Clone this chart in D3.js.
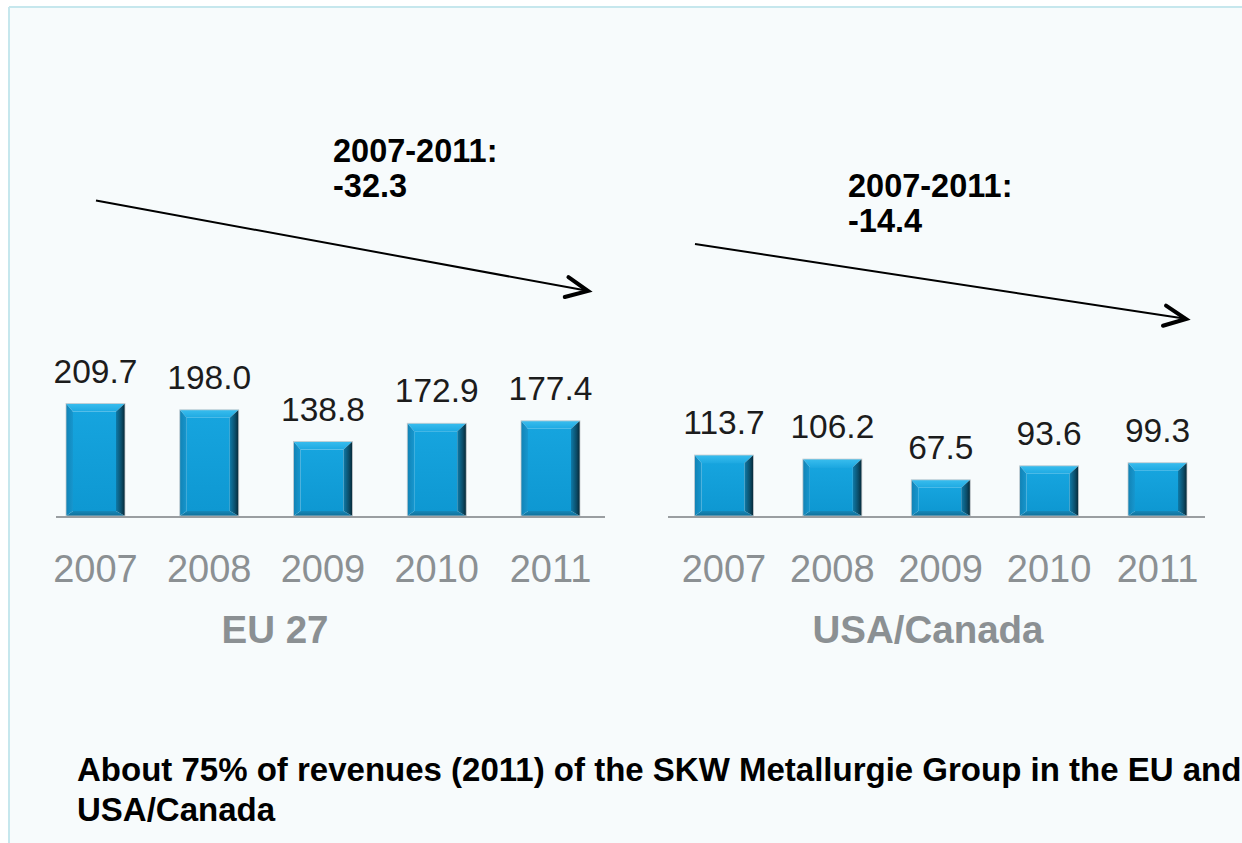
<!DOCTYPE html>
<html>
<head>
<meta charset="utf-8">
<script src="https://cdn.jsdelivr.net/npm/d3@7"></script>
<style>
  html, body { margin: 0; padding: 0; background: #ffffff; }
  svg { display: block; }
</style>
</head>
<body>
<div id="chart"></div>
<script>
// Regions and years
const years = ["2007", "2008", "2009", "2010", "2011"];
const regions = ["EU 27", "USA/Canada"];

// Values per region (one entry per year)
const euValues = [209.7, 198.0, 138.8, 172.9, 177.4];
const usaValues = [113.7, 106.2, 67.5, 93.6, 99.3];

// Change over the period, per region
const changeLabel = "2007-2011:";
const changes = [-32.3, -14.4];

const footerLines = [
  "About 75% of revenues (2011) of the SKW Metallurgie Group in the EU and",
  "USA/Canada"
];

const W = 1242, H = 843;
const svg = d3.select("#chart").append("svg")
  .attr("width", W).attr("height", H)
  .style("font-family", "'Liberation Sans', Arial, Helvetica, sans-serif");

// Panel background with a light cyan frame on the top and left edges
svg.append("rect").attr("x", 9).attr("y", 7).attr("width", W).attr("height", H)
  .attr("fill", "#f7fbfc");
svg.append("line").attr("x1", 9).attr("x2", W).attr("y1", 7).attr("y2", 7)
  .attr("stroke", "#c6e7ed").attr("stroke-width", 2);
svg.append("line").attr("x1", 9).attr("x2", 9).attr("y1", 7).attr("y2", H)
  .attr("stroke", "#c6e7ed").attr("stroke-width", 2);

// Gradients for the bevelled bar faces
const defs = svg.append("defs");
function grad(id, x2, y2, stops) {
  const g = defs.append("linearGradient").attr("id", id)
    .attr("x1", 0).attr("y1", 0).attr("x2", x2).attr("y2", y2);
  stops.forEach(s => g.append("stop").attr("offset", s[0]).attr("stop-color", s[1]));
}
grad("faceTop", 0, 1, [[0, "#39bdee"], [1, "#1ea9e2"]]);
grad("faceRight", 1, 0, [[0, "#0e7aa8"], [0.6, "#0b4d69"], [1, "#062634"]]);
grad("faceLeft", 1, 0, [[0, "#1282b4"], [1, "#1697cf"]]);
grad("faceBottom", 0, 1, [[0, "#1688b9"], [1, "#0f6f99"]]);
grad("faceMid", 0, 1, [[0, "#16a4de"], [1, "#0e98d2"]]);

// Shared value scale
const baseY = 516;
const y = d3.scaleLinear().domain([0, 220]).range([baseY, 398]);

const panels = [
  { name: regions[0], values: euValues, centers: [95.5, 550.5], axis: [56, 605],
    labelX: 275, change: changes[0], noteX: 333, noteY: 162,
    arrow: { from: [96, 200.5], to: [588, 291] } },
  { name: regions[1], values: usaValues, centers: [724, 1157.5], axis: [668, 1205],
    labelX: 928, change: changes[1], noteX: 848, noteY: 197,
    arrow: { from: [695, 244], to: [1186, 319] } }
];

const barW = 59;
const bev = { t: 8, b: 5, l: 7, r: 9 };

panels.forEach(p => {
  const x = d3.scalePoint().domain(years).range(p.centers);
  const g = svg.append("g");

  // Bars
  const bars = g.selectAll("g.bar").data(years.map((yr, i) => ({ yr, v: p.values[i] })))
    .join("g").attr("class", "bar");

  bars.each(function(d) {
    const b = d3.select(this);
    const x0 = x(d.yr) - barW / 2, x1 = x0 + barW;
    const y0 = y(d.v), y1 = y(0);
    const pts = arr => arr.map(q => q.join(",")).join(" ");
    const ix0 = x0 + bev.l, ix1 = x1 - bev.r, iy0 = y0 + bev.t, iy1 = y1 - bev.b;
    b.append("rect").attr("x", ix0).attr("y", iy0)
      .attr("width", ix1 - ix0).attr("height", Math.max(0, iy1 - iy0))
      .attr("fill", "url(#faceMid)");
    b.append("polygon").attr("points", pts([[x0, y0], [x1, y0], [ix1, iy0], [ix0, iy0]]))
      .attr("fill", "url(#faceTop)");
    b.append("polygon").attr("points", pts([[x0, y1], [x1, y1], [ix1, iy1], [ix0, iy1]]))
      .attr("fill", "url(#faceBottom)");
    b.append("polygon").attr("points", pts([[x0, y0], [ix0, iy0], [ix0, iy1], [x0, y1]]))
      .attr("fill", "url(#faceLeft)");
    b.append("polygon").attr("points", pts([[x1, y0], [ix1, iy0], [ix1, iy1], [x1, y1]]))
      .attr("fill", "url(#faceRight)");
    b.append("rect").attr("x", x0).attr("y", y0).attr("width", barW).attr("height", y1 - y0)
      .attr("fill", "none").attr("stroke", "#c9cdd0").attr("stroke-width", 0.8);
  });

  // Baseline
  g.append("line").attr("x1", p.axis[0]).attr("x2", p.axis[1])
    .attr("y1", baseY + 1).attr("y2", baseY + 1)
    .attr("stroke", "#9a9ea1").attr("stroke-width", 2);

  // Value labels
  g.selectAll("text.val").data(years.map((yr, i) => ({ yr, v: p.values[i] })))
    .join("text").attr("class", "val")
    .attr("x", d => x(d.yr)).attr("y", d => y(d.v) - 21)
    .attr("text-anchor", "middle").attr("font-size", 33.5).attr("fill", "#1c1c1c")
    .text(d => d.v.toFixed(1));

  // Year labels
  g.selectAll("text.yr").data(years).join("text").attr("class", "yr")
    .attr("x", d => x(d)).attr("y", 582)
    .attr("text-anchor", "middle").attr("font-size", 38).attr("fill", "#8b9093")
    .text(d => d);

  // Region label
  g.append("text").attr("x", p.labelX).attr("y", 643)
    .attr("text-anchor", "middle").attr("font-size", 38.5).attr("font-weight", "bold")
    .attr("fill", "#8b9093").text(p.name);

  // Change note
  const note = g.append("text").attr("font-size", 32.5).attr("font-weight", "bold").attr("fill", "#000");
  note.append("tspan").attr("x", p.noteX).attr("y", p.noteY).text(changeLabel);
  note.append("tspan").attr("x", p.noteX).attr("y", p.noteY + 35).text(p.change.toFixed(1));

  // Trend arrow with an open chevron head
  const [ax0, ay0] = p.arrow.from, [ax1, ay1] = p.arrow.to;
  g.append("line").attr("x1", ax0).attr("y1", ay0).attr("x2", ax1 - 2).attr("y2", ay1 - 0.4)
    .attr("stroke", "#000").attr("stroke-width", 2);
  const ang = Math.atan2(ay1 - ay0, ax1 - ax0) + Math.PI;
  const len = 24, spread = 25 * Math.PI / 180;
  const head = d3.path();
  head.moveTo(ax1 + len * Math.cos(ang - spread), ay1 + len * Math.sin(ang - spread));
  head.lineTo(ax1, ay1);
  head.lineTo(ax1 + len * Math.cos(ang + spread), ay1 + len * Math.sin(ang + spread));
  g.append("path").attr("d", head.toString()).attr("fill", "none")
    .attr("stroke", "#000").attr("stroke-width", 4)
    .attr("stroke-linecap", "round").attr("stroke-linejoin", "miter");
});

// Footer note
const foot = svg.append("text").attr("font-size", 33).attr("font-weight", "bold").attr("fill", "#000");
footerLines.forEach((t, i) => {
  foot.append("tspan").attr("x", 77).attr("y", 781 + i * 40).text(t);
});
</script>
</body>
</html>
